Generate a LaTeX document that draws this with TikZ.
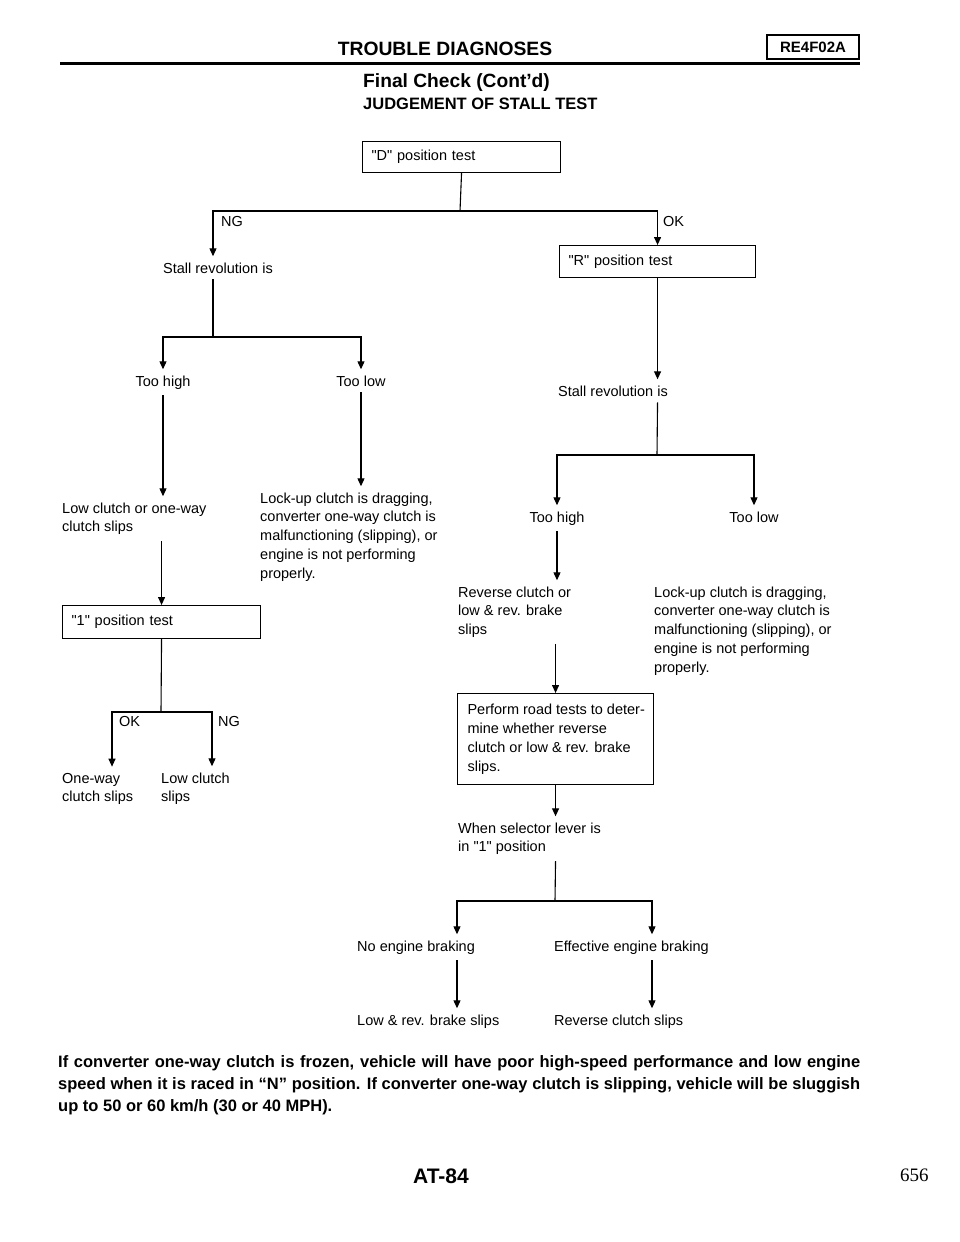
\documentclass[tikz,border=0pt]{standalone}
\usepackage{fontspec}
\setmainfont{Liberation Sans}[Ligatures=TeXOff]
\newfontfamily\serifnum{Liberation Serif}
\usetikzlibrary{arrows.meta}
\newcommand\ml[1]{\vtop{\halign{##\hfil\cr#1\crcr}}}
\begin{document}
\begin{tikzpicture}[x=1pt,y=-1pt,
  txt/.style={inner xsep=0pt, inner ysep=6pt, font=\fontsize{14.5}{18.8}\selectfont, anchor=base west},
  ctxt/.style={txt, anchor=base},
  box/.style={draw, line width=1.1pt, anchor=north west, inner xsep=9pt, inner ysep=0pt, align=left, font=\fontsize{14.5}{19}\selectfont},
  conn/.style={line width=1.1pt},
  arr/.style={conn, -{Triangle[width=7pt,length=8pt]}},
  para/.style={anchor=base west, inner sep=0pt, font=\bfseries\fontsize{16.5}{22}\selectfont},
]
\useasboundingbox (0,0) rectangle (960,1242);

% header
\node[anchor=base, inner sep=0pt, font=\bfseries\fontsize{19.3}{22}\selectfont] (title) at (445,55) {TROUBLE DIAGNOSES};
\draw[line width=3pt] (60,63) coordinate (hl) -- (860,63) coordinate (hr);
\node[draw, line width=2pt, minimum width=92pt, minimum height=24pt, inner sep=0pt, font=\bfseries\fontsize{15}{18}\selectfont] (code) at (813,47) {RE4F02A};
\node[anchor=base west, inner sep=0pt, font=\bfseries\fontsize{19.2}{22}\selectfont] (sub) at (363,87) {Final Check (Cont’d)};
\node[anchor=base west, inner sep=0pt, font=\bfseries\fontsize{16.5}{20}\selectfont] (judge) at (363,109) {JUDGEMENT OF STALL TEST};

% boxes
\node[box, minimum width=198pt, minimum height=31pt, text width=180pt] (D) at (362,141) {"D" position test};
\node[box, minimum width=196pt, minimum height=32pt, text width=178pt] (R) at (559,245) {"R" position test};
\node[box, minimum width=198pt, minimum height=33pt, text width=180pt] (P1) at (62,605) {"1" position test};
\node[box, minimum height=91pt, inner xsep=10pt] (perf) at (457,693) {\makebox[176pt][l]{\ml{Perform road tests to deter-\cr mine whether reverse\cr clutch or low \& rev. brake\cr slips.}}};

% left branch texts
\node[txt] (ngA) at (221,226) {NG};
\node[txt] (okA) at (663,226) {OK};
\node[txt] (stall1) at (163,273) {Stall revolution is};
\node[ctxt] (hiL) at (163,386) {Too high};
\node[ctxt] (loL) at (361,386) {Too low};
\node[txt] (lowc) at (62,513) {\ml{Low clutch or one-way\cr clutch slips}};
\node[txt] (lockL) at (260,503) {\ml{Lock-up clutch is dragging,\cr converter one-way clutch is\cr malfunctioning (slipping), or\cr engine is not performing\cr properly.}};
\node[txt] (okB) at (119,726) {OK};
\node[txt] (ngB) at (218,726) {NG};
\node[txt] (oneway) at (62,783) {\ml{One-way\cr clutch slips}};
\node[txt] (lowc2) at (161,783) {\ml{Low clutch\cr slips}};

% right branch texts
\node[txt] (stall2) at (558,396) {Stall revolution is};
\node[ctxt] (hiR) at (557,522) {Too high};
\node[ctxt] (loR) at (754,522) {Too low};
\node[txt] (revc) at (458,597) {\ml{Reverse clutch or\cr low \& rev. brake\cr slips}};
\node[txt] (lockR) at (654,597) {\ml{Lock-up clutch is dragging,\cr converter one-way clutch is\cr malfunctioning (slipping), or\cr engine is not performing\cr properly.}};
\node[txt] (when) at (458,833) {\ml{When selector lever is\cr in "1" position}};
\node[txt] (noeng) at (357,951) {No engine braking};
\node[txt] (effe) at (554,951) {Effective engine braking};
\node[txt] (lowrev) at (357,1025) {Low \& rev. brake slips};
\node[txt] (revs) at (554,1025) {Reverse clutch slips};

% connectors
\coordinate (j1) at (460,211);
\draw[conn] (D.south) -- (j1);
\draw[arr] (j1) -| ([xshift=50pt]stall1.north west);
\draw[arr] (j1) -| (R.north);
\coordinate (j2) at (213,337);
\draw[conn] ([xshift=50pt]stall1.south west) -- (j2);
\draw[arr] (j2) -| (hiL.north);
\draw[arr] (j2) -| (loL.north);
\draw[arr] (hiL.south) -- (hiL.south |- lowc.north);
\draw[arr] (lowc.south -| P1.north) -- (P1.north);
\coordinate (j3) at (161,712);
\draw[conn] (P1.south) -- (j3);
\draw[arr] (j3) -| ([xshift=50pt]oneway.north west);
\draw[arr] (j3) -| ([xshift=51pt]lowc2.north west);
\draw[arr] (loL.south) -- (loL.south |- lockL.north);
\draw[arr] (R.south) -- (R.south |- stall2.north);
\coordinate (j4) at (657,455);
\draw[conn] (R.south |- stall2.south) -- (j4);
\draw[arr] (j4) -| (hiR.north);
\draw[arr] (j4) -| (loR.north);
\draw[arr] (hiR.south) -- (hiR.south |- revc.north);
\draw[arr] (revc.south -| perf.north) -- (perf.north);
\draw[arr] (perf.south) -- (perf.south |- when.north);
\coordinate (j5) at (555,901);
\draw[conn] (perf.south |- when.south) -- (j5);
\draw[arr] (j5) -| ([xshift=100pt]noeng.north west);
\draw[arr] (j5) -| ([xshift=98pt]effe.north west);
\draw[arr] ([xshift=100pt]noeng.south west) -- ([xshift=100pt]lowrev.north west);
\draw[arr] ([xshift=98pt]effe.south west) -- ([xshift=98pt]revs.north west);

% paragraph
\node[para] (p1) at (58,1067) {\makebox[802pt][s]{If converter one-way clutch is frozen, vehicle will have poor high-speed performance and low engine}};
\node[para] (p2) at (58,1089) {\makebox[802pt][s]{speed when it is raced in “N” position. If converter one-way clutch is slipping, vehicle will be sluggish}};
\node[para] (p3) at (58,1111) {up to 50 or 60 km/h (30 or 40 MPH).};

% footer
\node[anchor=base, inner sep=0pt, font=\bfseries\fontsize{21}{24}\selectfont] (page) at (441,1183) {AT-84};
\node[anchor=base west, inner sep=0pt, font=\serifnum\fontsize{19}{22}\selectfont] (num) at (900,1181) {656};
\end{tikzpicture}
\end{document}
